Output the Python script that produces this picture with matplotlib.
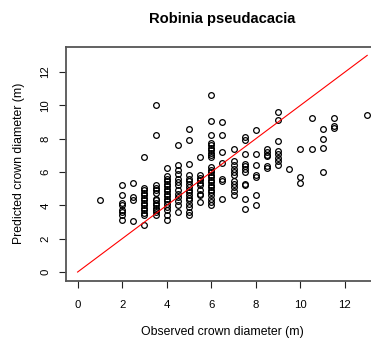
import matplotlib
matplotlib.use("Agg")
import matplotlib.pyplot as plt
import numpy as np

plt.rcParams['font.family'] = ['Liberation Sans', 'DejaVu Sans']

# observed crown diameter classes and the predicted values at each class
observed_classes = [1, 2, 2.5, 3, 3.5, 4, 4.5, 5, 5.5, 6, 6.5, 7, 7.5,
                    8, 8.5, 9, 9.5, 10, 10.5, 11, 11.5, 13]
predicted = [
    [4.35],
    [5.2, 4.65, 4.15, 4.0, 3.75, 3.6, 3.45, 3.15],
    [5.37, 4.5, 4.3, 3.05],
    [6.9, 5.05, 4.9, 4.75, 4.6, 4.45, 4.3, 4.15, 4.0, 3.85, 3.7, 3.55, 3.4, 2.85],
    [10.0, 8.25, 5.2, 5.05, 4.9, 4.75, 4.4, 4.3, 4.15, 4.0, 3.85, 3.7, 3.6, 3.4],
    [6.25, 5.75, 5.6, 5.45, 5.3, 5.15, 5.0, 4.85, 4.7, 4.55, 4.4, 4.25, 4.1,
     3.9, 3.7, 3.4, 3.15],
    [7.65, 6.4, 6.15, 5.9, 5.6, 5.4, 5.2, 4.95, 4.7, 4.5, 4.25, 4.05, 3.6],
    [8.6, 7.9, 6.5, 5.8, 5.6, 5.45, 5.3, 5.1, 4.9, 4.8, 4.6, 4.45, 4.3, 4.1,
     3.9, 3.6, 3.4],
    [6.9, 5.8, 5.65, 5.5, 5.35, 5.2, 4.9, 4.7, 4.6, 4.2],
    [10.65, 9.05, 8.25, 7.75, 7.6, 7.45, 7.3, 7.15, 7.0, 6.9, 6.3, 6.15, 6.0,
     5.85, 5.7, 5.55, 5.4, 5.25, 5.1, 4.95, 4.8, 4.65, 4.4, 4.2, 4.0],
    [9.0, 8.25, 7.2, 6.55, 5.6, 5.45, 4.4],
    [7.4, 6.65, 6.45, 6.2, 6.0, 5.8, 5.45, 5.3, 5.1, 4.85, 4.65],
    [8.1, 7.95, 7.1, 6.5, 6.35, 6.2, 6.0, 5.3, 5.2, 4.4, 3.8],
    [8.55, 7.1, 6.4, 5.85, 5.7, 4.65, 4.0],
    [7.4, 7.2, 7.05, 6.95, 6.35, 6.25],
    [9.6, 9.15, 7.85, 7.25, 7.1, 6.85, 6.65, 6.45],
    [6.2],
    [7.4, 5.7, 5.35],
    [9.25, 7.4],
    [8.6, 8.0, 7.45, 6.0],
    [9.25, 8.75, 8.65],
    [9.45],
]

# 1:1 reference line
ref_x = [0, 13]
ref_y = [0, 13]

obs = np.concatenate([[c] * len(p) for c, p in zip(observed_classes, predicted)])
pred = np.concatenate(predicted)

fig = plt.figure(figsize=(3.71, 3.43), dpi=100)
ax = fig.add_axes([0.1779, 0.1816, 0.8431, 0.6822])

ax.plot(obs, pred, linestyle='none', marker='o', markersize=4.1,
        markerfacecolor='none', markeredgecolor='black', markeredgewidth=0.9)
ax.plot(ref_x, ref_y, color='red', linewidth=0.8)

ax.set_xlim(-0.52, 13.52)
ax.set_ylim(-0.52, 13.52)
ax.set_xticks(np.arange(0, 13, 2))
ax.set_yticks(np.arange(0, 13, 2))

for s in ax.spines.values():
    s.set_color('#555555')
    s.set_linewidth(1.3)

ax.tick_params(axis='both', direction='out', length=5.2, width=0.8,
               color='#222222', labelsize=8.2)
ax.tick_params(axis='x', pad=8.5)
ax.tick_params(axis='y', pad=6)
for lbl in ax.get_yticklabels():
    lbl.set_rotation(90)
    lbl.set_va('center')

ax.set_xlabel('Observed crown diameter (m)', fontsize=8.8, labelpad=12)
ax.set_ylabel('Predicted crown diameter (m)', fontsize=8.8, labelpad=11)
ax.set_title('Robinia pseudacacia', fontsize=10.6, fontweight='bold', pad=17)

fig.savefig('out.png', dpi=100)
